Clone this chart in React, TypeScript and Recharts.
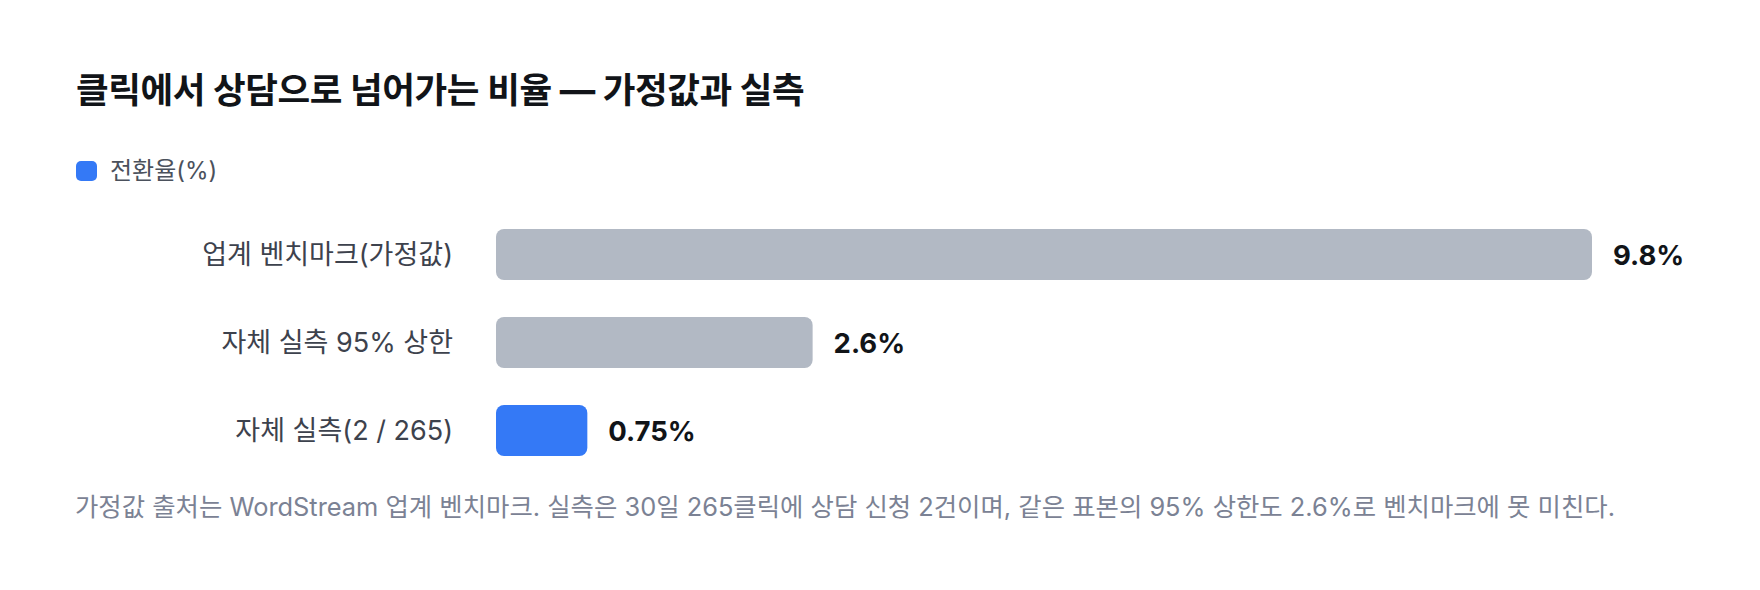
import React from 'react';
import { BarChart, Bar, XAxis, YAxis, Cell, LabelList, Rectangle } from 'recharts';

const categories = ['업계 벤치마크(가정값)', '자체 실측 95% 상한', '자체 실측(2 / 265)'];
const rates = [9.8, 2.6, 0.75];
const valueLabels = ['9.8%', '2.6%', '0.75%'];
const barColors = ['#b2b9c4', '#b2b9c4', '#3479f6'];

const X_MAX = 9; // axis is capped, the benchmark bar runs to the edge

const data = categories.map((name, i) => ({ name, rate: rates[i], label: valueLabels[i] }));

const FONT = "Inter, 'Noto Sans CJK KR', sans-serif";

const CappedBar = (props: any) => {
    const { x, y, width, height, fill, payload } = props;
    const perUnit = width / payload.rate;
    const w = Math.min(width, X_MAX * perUnit);
    return <Rectangle x={x} y={y} width={w} height={height} fill={fill} radius={8} />;
};

const ValueLabel = (props: any) => {
    const { x, y, width, height, value, index } = props;
    const perUnit = Number(width) / Number(value);
    const w = Math.min(Number(width), X_MAX * perUnit);
    return (
        <text
            x={Number(x) + w + 21}
            y={Number(y) + Number(height) / 2}
            dominantBaseline="central"
            fontFamily={FONT}
            fontSize={27.5}
            fontWeight={700}
            fill="#111418"
        >
            {valueLabels[index]}
        </text>
    );
};

const App: React.FC = () => {
    return (
        <div style={{ position: 'absolute', left: 0, top: 0, width: 1760, height: 590, background: '#fff', fontFamily: FONT }}>
            <div style={{ position: 'absolute', left: 76, top: 68, fontSize: 35.5, fontWeight: 700, color: '#111418', letterSpacing: '-0.4px', lineHeight: '46px', whiteSpace: 'nowrap' }}>
                클릭에서 상담으로 넘어가는 비율 — 가정값과 실측
            </div>
            <div style={{ position: 'absolute', left: 76, top: 157, display: 'flex', alignItems: 'center' }}>
                <span style={{ display: 'inline-block', width: 21, height: 20, borderRadius: 5, background: '#3479f6', marginRight: 13 }} />
                <span style={{ fontSize: 24, color: '#4b515c', lineHeight: '28px' }}>전환율(%)</span>
            </div>
            <BarChart
                width={1760}
                height={590}
                data={data}
                layout="vertical"
                margin={{ top: 210, right: 168, bottom: 116, left: 0 }}
                style={{ position: 'absolute', left: 0, top: 0 }}
            >
                <XAxis type="number" domain={[0, X_MAX]} allowDataOverflow hide />
                <YAxis
                    type="category"
                    dataKey="name"
                    width={496}
                    axisLine={false}
                    tickLine={false}
                    tickSize={0}
                    tickMargin={43}
                    tick={{ fontSize: 27, fill: '#3d424d', fontFamily: FONT }}
                />
                <Bar dataKey="rate" barSize={51} shape={CappedBar} isAnimationActive={false}>
                    {data.map((d, i) => (
                        <Cell key={d.name} fill={barColors[i]} />
                    ))}
                    <LabelList dataKey="rate" content={ValueLabel} />
                </Bar>
            </BarChart>
            <div style={{ position: 'absolute', left: 75, top: 490, fontSize: 25.4, color: '#7b8294', whiteSpace: 'nowrap', lineHeight: '34px' }}>
                가정값 출처는 WordStream 업계 벤치마크. 실측은 30일 265클릭에 상담 신청 2건이며, 같은 표본의 95% 상한도 2.6%로 벤치마크에 못 미친다.
            </div>
        </div>
    );
};

export default App;
